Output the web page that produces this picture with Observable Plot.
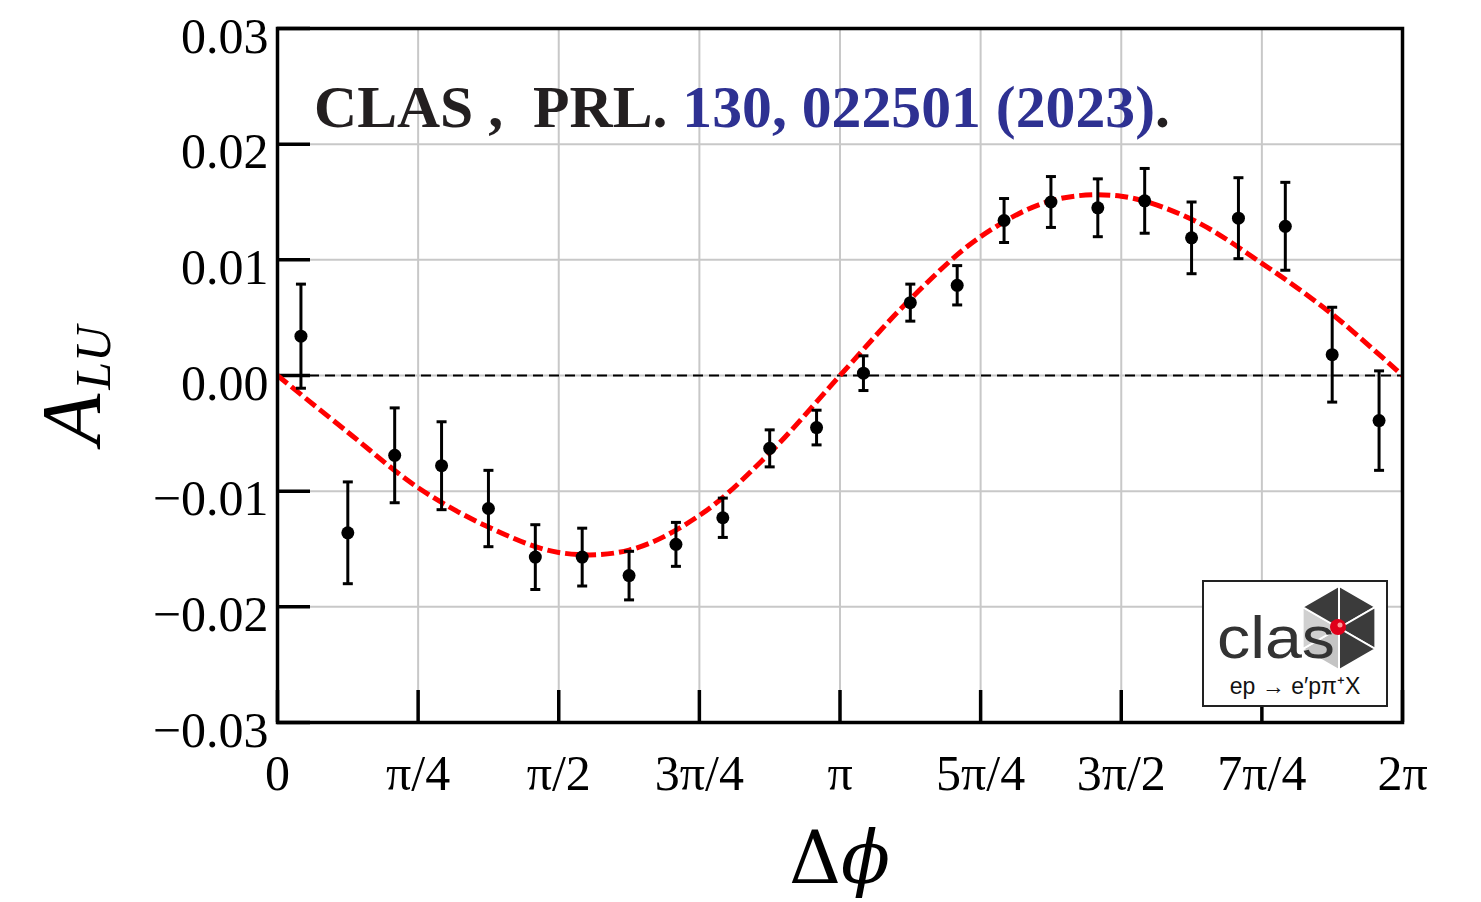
<!DOCTYPE html>
<html>
<head>
<meta charset="utf-8">
<script src="https://cdn.jsdelivr.net/npm/d3@7"></script>
<script src="https://cdn.jsdelivr.net/npm/@observablehq/plot@0.6"></script>
<style>
  html, body { margin: 0; padding: 0; background: #fff; }
  #chart { width: 1481px; height: 902px; }
</style>
</head>
<body>
<div id="chart"></div>
<script>
const PI = Math.PI;

// Δφ bin centres, in units of π/24 (24 equal bins over 0..2π)
const binCentresPi24 = [1, 3, 5, 7, 9, 11, 13, 15, 17, 19, 21, 23, 25, 27, 29, 31, 33, 35, 37, 39, 41, 43, 45, 47];
// Beam-spin asymmetry A_LU per bin
const asymmetry = [0.0034, -0.0136, -0.0069, -0.0078, -0.0115, -0.0157, -0.0157, -0.0173, -0.0146, -0.0123, -0.0063, -0.0045,
                   0.0002, 0.0063, 0.0078, 0.0134, 0.0150, 0.0145, 0.0151, 0.0119, 0.0136, 0.0129, 0.0018, -0.0039];
// statistical uncertainty per bin
const uncertainty = [0.0045, 0.0044, 0.0041, 0.0038, 0.0033, 0.0028, 0.0025, 0.0021, 0.0019, 0.0017, 0.0016, 0.0015,
                     0.0015, 0.0016, 0.0017, 0.0019, 0.0022, 0.0025, 0.0028, 0.0031, 0.0035, 0.0038, 0.0041, 0.0043];

// Fit curve at Δφ = k·π/8
const fitPhiEighths = [0, 1, 2, 3, 4, 5, 6, 7, 8, 9, 10, 11, 12, 13, 14, 15, 16];
const fitValues = [0, -0.0049, -0.0097, -0.0131, -0.0153, -0.0151, -0.0121, -0.0067, 0.0000,
                   0.0066, 0.0120, 0.0151, 0.0155, 0.0135, 0.0097, 0.0053, 0.0000];

// Axis ticks
const xTickQuarters = [0, 1, 2, 3, 4, 5, 6, 7, 8];
const xTickLabels = ["0", "π/4", "π/2", "3π/4", "π", "5π/4", "3π/2", "7π/4", "2π"];
const yTickValues = [-0.03, -0.02, -0.01, 0.00, 0.01, 0.02, 0.03];
const yTickLabels = ["−0.03", "−0.02", "−0.01", "0.00", "0.01", "0.02", "0.03"];

const titleBlack1 = "CLAS ,  PRL. ";
const titleBlue = "130, 022501 (2023)";
const titleBlack2 = ".";

// ---- build tables ----
const points = binCentresPi24.map((n, i) => ({
  phi: n * PI / 24,
  a: asymmetry[i],
  lo: asymmetry[i] - uncertainty[i],
  hi: asymmetry[i] + uncertainty[i]
}));
const fit = fitPhiEighths.map((k, i) => ({phi: k * PI / 8, a: fitValues[i]}));
const xTickValues = xTickQuarters.map(q => q * PI / 4);

// layout
const W = 1481, H = 902;
const mL = 277, mR = 79, mT = 28, mB = 180;
const frameW = W - mL - mR, frameH = H - mT - mB;

const capSymbol = {
  draw(context, size) {
    const w = Math.sqrt(size / Math.PI);
    context.moveTo(-w, 0);
    context.lineTo(w, 0);
  }
};

const gridStyle = {stroke: "#c8c8c8", strokeOpacity: 1, strokeWidth: 2};

const plot = Plot.plot({
  width: W,
  height: H,
  marginLeft: mL,
  marginRight: mR,
  marginTop: mT,
  marginBottom: mB,
  style: {fontFamily: "'Liberation Serif', 'DejaVu Serif', serif", fontSize: "50px", color: "#000", background: "#fff"},
  x: {domain: [0, 2 * PI]},
  y: {domain: [-0.03, 0.03]},
  marks: [
    Plot.gridX(xTickValues, gridStyle),
    Plot.gridY(yTickValues, gridStyle),
    Plot.ruleY([0], {stroke: "#000", strokeWidth: 2, strokeDasharray: "10,6"}),
    Plot.tickY(yTickValues, {stroke: "#000", strokeWidth: 3.5, insetRight: frameW - 33}),
    Plot.tickX(xTickValues, {stroke: "#000", strokeWidth: 3.5, insetTop: frameH - 32}),
    Plot.line(fit, {x: "phi", y: "a", curve: "catmull-rom", stroke: "#ff0000", strokeWidth: 5,
      strokeDasharray: "13,5", strokeLinecap: "butt"}),
    Plot.ruleX(points, {x: "phi", y1: "lo", y2: "hi", stroke: "#000", strokeWidth: 3}),
    Plot.dot(points, {x: "phi", y: "lo", symbol: capSymbol, r: 5, fill: "none", stroke: "#000", strokeWidth: 3}),
    Plot.dot(points, {x: "phi", y: "hi", symbol: capSymbol, r: 5, fill: "none", stroke: "#000", strokeWidth: 3}),
    Plot.dot(points, {x: "phi", y: "a", r: 6.5, fill: "#000", stroke: null}),
    Plot.frame({stroke: "#000", strokeWidth: 3.5}),
    Plot.axisX(xTickValues, {tickSize: 0, tickPadding: 32, label: null,
      tickFormat: d => xTickLabels[xTickValues.indexOf(d)]}),
    Plot.axisY(yTickValues, {tickSize: 0, tickPadding: 9, dy: 8, label: null,
      tickFormat: d => yTickLabels[yTickValues.indexOf(d)]})
  ]
});

document.getElementById("chart").appendChild(plot);

// ---- annotations drawn into the same SVG ----
const svg = d3.select(plot);

// title inside plot
const title = svg.append("text")
  .attr("x", mL + 37)
  .attr("y", mT + 99)
  .attr("text-anchor", "start")
  .attr("textLength", 856)
  .attr("lengthAdjust", "spacingAndGlyphs")
  .style("font-family", "'Liberation Serif', serif")
  .style("font-weight", "bold")
  .style("font-size", "59px");
title.append("tspan").attr("fill", "#231f20").text(titleBlack1);
title.append("tspan").attr("fill", "#2e3192").text(titleBlue);
title.append("tspan").attr("fill", "#231f20").text(titleBlack2);

// y-axis label  A_LU
const ylab = svg.append("text")
  .attr("transform", `translate(100, ${mT + 417}) rotate(-90)`)
  .attr("text-anchor", "start")
  .style("font-family", "'Liberation Serif', serif")
  .style("font-style", "italic")
  .attr("fill", "#000");
ylab.append("tspan").style("font-size", "84px").text("A");
ylab.append("tspan").style("font-size", "50px").attr("dy", 10).attr("dx", 4).text("LU");

// x-axis label Δφ
const xlab = svg.append("text")
  .attr("x", mL + frameW / 2)
  .attr("y", H - 19)
  .attr("text-anchor", "middle")
  .style("font-family", "'DejaVu Serif', serif")
  .style("font-size", "72px")
  .attr("fill", "#000");
xlab.append("tspan").text("Δ");
xlab.append("tspan").style("font-style", "italic").text("ϕ");

// CLAS logo box (decoration, bottom-right of the frame)
const bx = mL + frameW - 199, by = mT + frameH - 141;
const logo = svg.append("g").attr("transform", `translate(${bx},${by})`);
logo.append("rect").attr("x", 0).attr("y", 0).attr("width", 184).attr("height", 125)
  .attr("fill", "#fff").attr("stroke", "#222").attr("stroke-width", 2);
// hexagon
const hx = 136, hy = 47, hr = 42;
const verts = d3.range(6).map(k => {
  const ang = -Math.PI / 2 + k * Math.PI / 3;
  return [hx + hr * Math.cos(ang), hy + hr * Math.sin(ang)];
});
verts.forEach((v, k) => {
  const w = verts[(k + 1) % 6];
  logo.append("path")
    .attr("d", `M${hx},${hy}L${v[0]},${v[1]}L${w[0]},${w[1]}Z`)
    .attr("fill", k === 3 ? "#c4c4c4" : (k === 4 ? "#d0d0d0" : "#3b3b3b"))
    .attr("stroke", "#fff").attr("stroke-width", 2);
});
logo.append("text").attr("x", 14).attr("y", 77)
  .attr("text-anchor", "start")
  .attr("textLength", 118)
  .attr("lengthAdjust", "spacingAndGlyphs")
  .style("font-family", "'Liberation Sans', Arial, sans-serif")
  .style("font-size", "60px")
  .attr("fill", "#333").text("clas");
logo.append("circle").attr("cx", hx - 1).attr("cy", hy - 1).attr("r", 8).attr("fill", "#e0001a");
logo.append("circle").attr("cx", hx + 1).attr("cy", hy - 3).attr("r", 2.5).attr("fill", "#ff9a9a");
logo.append("text").attr("x", 92).attr("y", 113)
  .attr("text-anchor", "middle")
  .style("font-family", "'Liberation Sans', Arial, sans-serif")
  .style("font-size", "23px")
  .attr("fill", "#111").text("ep → e′pπ⁺X");
</script>
</body>
</html>
